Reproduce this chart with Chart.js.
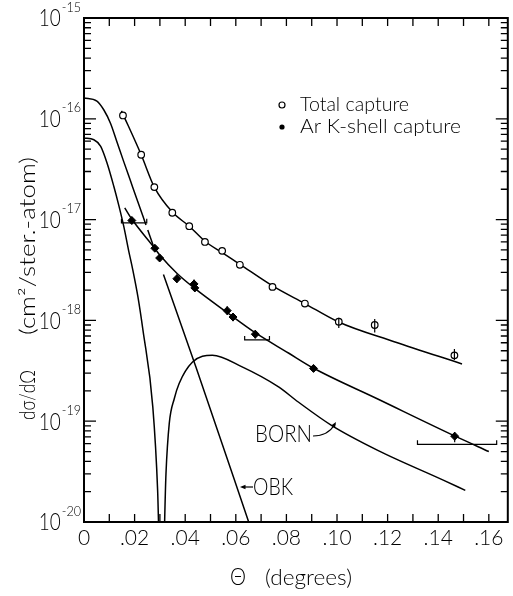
<!DOCTYPE html>
<html>
<head>
<meta charset="utf-8">
<script src="https://cdn.jsdelivr.net/npm/chart.js@4.4.1/dist/chart.umd.min.js"></script>
<style>
  body { margin: 0; background: #fff; }
</style>
</head>
<body>
<canvas id="sigmaChart" width="513" height="596"></canvas>
<script>
// theta in degrees, cross sections in cm^2/ster.-atom
const totalTheta = [0.0154, 0.0226, 0.0278, 0.0349, 0.0416, 0.0478, 0.0546, 0.0616, 0.0745, 0.0873, 0.1007, 0.1149, 0.1464];
const totalSigma = [1.08e-16, 4.4e-17, 2.1e-17, 1.17e-17, 8.6e-18, 6.0e-18, 4.9e-18, 3.56e-18, 2.15e-18, 1.47e-18, 9.7e-19, 9.0e-19, 4.5e-19];
// only the last three open points carry visible error bars
const totalErrTheta = [0.1007, 0.1149, 0.1464];
const totalErrLo = [8.4e-19, 7.6e-19, 4.05e-19];
const totalErrHi = [1.06e-18, 1.035e-18, 5.2e-19];

const arTheta = [0.0189, 0.0280, 0.0299, 0.0367, 0.0435, 0.0438, 0.0566, 0.0589, 0.0677, 0.0907, 0.1465];
const arSigma = [9.8e-18, 5.2e-18, 4.16e-18, 2.59e-18, 2.3e-18, 2.1e-18, 1.25e-18, 1.08e-18, 7.3e-19, 3.34e-19, 7.1e-20];
const arErrLo = [9.0e-18, 4.8e-18, 3.85e-18, 2.35e-18, 2.1e-18, 1.92e-18, 1.13e-18, 0.98e-18, 6.6e-19, 3.1e-19, 6.2e-20];
const arErrHi = [1.07e-17, 5.6e-18, 4.5e-18, 2.85e-18, 2.55e-18, 2.3e-18, 1.38e-18, 1.18e-18, 8.0e-19, 3.6e-19, 7.8e-20];
// angular resolution brackets
const resTheta0 = [0.0148, 0.0635, 0.1318];
const resTheta1 = [0.0248, 0.0733, 0.1631];
const resSigma = [9.3e-18, 6.4e-19, 5.9e-20];

// hand drawn curves
const totalFitTheta = [0.0148, 0.0226, 0.0278, 0.0350, 0.0416, 0.0478, 0.0546, 0.0616, 0.0745, 0.0873, 0.1004, 0.1226, 0.1494];
const totalFitSigma = [1.2e-16, 4.4e-17, 2.1e-17, 1.18e-17, 8.6e-18, 6.1e-18, 4.7e-18, 3.6e-18, 2.2e-18, 1.47e-18, 9.7e-19, 6.15e-19, 3.7e-19];
const arFitTheta = [0.0161, 0.0188, 0.0278, 0.0302, 0.0369, 0.0435, 0.0565, 0.0678, 0.0808, 0.0906, 0.1161, 0.1467, 0.1600];
const arFitSigma = [1.31e-17, 1.02e-17, 5.25e-18, 4.37e-18, 2.9e-18, 2.1e-18, 1.2e-18, 7.5e-19, 4.75e-19, 3.37e-19, 1.66e-19, 7.1e-20, 5.0e-20];

const obkTheta = [0, 0.0051, 0.0078, 0.0105, 0.0131, 0.0157, 0.0184, 0.0212, 0.0245, 0.0252, 0.0278, 0.0314, 0.0442, 0.0667];
const obkSigma = [1.61e-16, 1.5e-16, 1.23e-16, 9.0e-17, 5.82e-17, 3.76e-17, 2.41e-17, 1.52e-17, 8.85e-18, 7.89e-18, 5.15e-18, 2.85e-18, 3.47e-19, 7.6e-21];
// pieces of the OBK curve left blank where it crosses the data
const obkGaps = [[0.0245, 0.0252], [0.0278, 0.0314]];

const bornTheta = [0, 0.0039, 0.0066, 0.0091, 0.0118, 0.0137, 0.0157, 0.0176, 0.0193, 0.0213, 0.0233, 0.0272, 0.0291, 0.0306,
  0.0324, 0.0337, 0.0357, 0.0376, 0.0429, 0.0507, 0.0625, 0.0769, 0.0847, 0.0978, 0.1161, 0.1422, 0.1507];
const bornSigma = [6.44e-17, 6.2e-17, 5.32e-17, 3.64e-17, 2.13e-17, 1.4e-17, 8.6e-18, 4.99e-18, 3.16e-18, 1.72e-18, 8.0e-19, 1.38e-19, 2.06e-20, 1e-21,
  3.0e-20, 9.5e-20, 1.68e-19, 2.37e-19, 3.87e-19, 4.52e-19, 3.46e-19, 2.19e-19, 1.55e-19, 9.1e-20, 5.14e-20, 2.59e-20, 2.06e-20];

const xTickLabels = [0, 0.02, 0.04, 0.06, 0.08, 0.10, 0.12, 0.14, 0.16];
const yDecades = [-15, -16, -17, -18, -19, -20];

const FONT = 'Lato, "DejaVu Sans", sans-serif';
const WEIGHT = '300';

function pts(xs, ys) {
  return xs.map((v, i) => ({ x: v, y: ys[i] }));
}

// draw text squeezed/stretched to a given width
function fitText(ctx, str, x, y, size, width, align) {
  ctx.font = WEIGHT + ' ' + size + 'px ' + FONT;
  const w = ctx.measureText(str).width;
  ctx.save();
  ctx.translate(x, y);
  ctx.scale(width / w, 1);
  ctx.textAlign = align || 'left';
  ctx.textBaseline = 'middle';
  ctx.fillText(str, 0, 0);
  ctx.restore();
}

function arrowHead(ctx, x, y, ang) {
  ctx.beginPath();
  ctx.moveTo(x, y);
  ctx.lineTo(x - 6 * Math.cos(ang - 0.4), y - 6 * Math.sin(ang - 0.4));
  ctx.lineTo(x - 6 * Math.cos(ang + 0.4), y - 6 * Math.sin(ang + 0.4));
  ctx.closePath();
  ctx.fill();
}

const decorPlugin = {
  id: 'decor',
  afterDatasetsDraw(chart) {
    const { ctx, chartArea: a, scales: { x, y } } = chart;
    ctx.save();
    ctx.strokeStyle = '#000';
    ctx.fillStyle = '#000';

    // error bars
    ctx.lineWidth = 1.2;
    ctx.beginPath();
    totalErrTheta.forEach((t, i) => {
      const px = x.getPixelForValue(t);
      ctx.moveTo(px, y.getPixelForValue(totalErrLo[i]));
      ctx.lineTo(px, y.getPixelForValue(totalErrHi[i]));
    });
    arTheta.forEach((t, i) => {
      const px = x.getPixelForValue(t);
      ctx.moveTo(px, y.getPixelForValue(arErrLo[i]));
      ctx.lineTo(px, y.getPixelForValue(arErrHi[i]));
    });
    resSigma.forEach((s, i) => {
      const py = y.getPixelForValue(s);
      const x0 = x.getPixelForValue(resTheta0[i]);
      const x1 = x.getPixelForValue(resTheta1[i]);
      ctx.moveTo(x0, py - 4);
      ctx.lineTo(x0, py);
      ctx.lineTo(x1, py);
      ctx.lineTo(x1, py - 4);
    });
    ctx.stroke();

    // frame
    ctx.lineWidth = 2;
    ctx.strokeRect(a.left, a.top, a.right - a.left, a.bottom - a.top);

    // inward ticks
    ctx.lineWidth = 1.3;
    ctx.beginPath();
    for (let i = 0; i <= 16; i++) {
      const px = x.getPixelForValue(i / 100);
      ctx.moveTo(px, a.bottom);
      ctx.lineTo(px, a.bottom - 8);
      ctx.moveTo(px, a.top);
      ctx.lineTo(px, a.top + 8);
    }
    for (let e = -20; e <= -15; e++) {
      for (let m = 1; m <= 9; m++) {
        if (e === -15 && m > 1) break;
        const py = y.getPixelForValue(m * Math.pow(10, e));
        const len = m === 1 ? 12 : 7;
        ctx.moveTo(a.left, py);
        ctx.lineTo(a.left + len, py);
        ctx.moveTo(a.right, py);
        ctx.lineTo(a.right - len, py);
      }
    }
    ctx.stroke();

    // y tick labels: 10 with raised exponent
    yDecades.forEach(e => {
      const py = y.getPixelForValue(Math.pow(10, e));
      const sup = String(e);
      ctx.font = WEIGHT + ' 14px ' + FONT;
      const sw = ctx.measureText(sup).width * 0.9;
      fitText(ctx, sup, 81 - sw, py - 11, 14, sw, 'left');
      fitText(ctx, '10', 81 - sw - 1, py + 1, 23, 22, 'right');
    });

    // legend
    ctx.lineWidth = 1.2;
    ctx.beginPath();
    ctx.arc(282, 105, 3, 0, Math.PI * 2);
    ctx.stroke();
    ctx.beginPath();
    ctx.arc(282, 127, 2.6, 0, Math.PI * 2);
    ctx.fill();
    fitText(ctx, 'Total capture', 300, 105, 20, 109);
    fitText(ctx, 'Ar K-shell capture', 300, 127, 20, 161);

    // curve labels
    fitText(ctx, 'BORN', 255, 435, 23, 57);
    ctx.beginPath();
    ctx.moveTo(313, 436);
    ctx.quadraticCurveTo(328, 436, 335, 424);
    ctx.stroke();
    arrowHead(ctx, 336, 422, -1.0);
    fitText(ctx, 'OBK', 253, 488, 23, 40);
    ctx.beginPath();
    ctx.moveTo(253, 487);
    ctx.lineTo(243, 487);
    ctx.stroke();
    arrowHead(ctx, 240, 487, Math.PI);

    // axis titles
    fitText(ctx, '\u0398', 238, 578, 23, 16, 'center');
    fitText(ctx, '(degrees)', 265, 578, 21, 87);
    ctx.save();
    ctx.translate(28, 0);
    ctx.rotate(-Math.PI / 2);
    fitText(ctx, '(cm\u00b2/ster.-atom)', -246, 0, 21, 178, 'center');
    fitText(ctx, 'd\u03c3/d\u03a9', -395, 0, 22, 50, 'center');
    ctx.restore();

    ctx.restore();
  }
};

const curve = { showLine: true, pointRadius: 0, borderColor: '#000', borderWidth: 1.5, cubicInterpolationMode: 'monotone', fill: false };

new Chart(document.getElementById('sigmaChart'), {
  type: 'scatter',
  data: {
    datasets: [
      { label: 'Total capture', data: pts(totalTheta, totalSigma), pointStyle: 'circle', pointRadius: 3.3,
        pointBackgroundColor: '#fff', pointBorderColor: '#000', pointBorderWidth: 1.2 },
      { label: 'Ar K-shell capture', data: pts(arTheta, arSigma), pointStyle: 'rectRot', pointRadius: 4,
        pointBackgroundColor: '#000', pointBorderColor: '#000', pointBorderWidth: 1 },
      Object.assign({ label: 'Total fit', data: pts(totalFitTheta, totalFitSigma) }, curve),
      Object.assign({ label: 'Ar K fit', data: pts(arFitTheta, arFitSigma) }, curve),
      Object.assign({ label: 'OBK', data: pts(obkTheta, obkSigma),
        segment: {
          borderColor: c => obkGaps.some(g => c.p0.parsed.x >= g[0] - 1e-6 && c.p1.parsed.x <= g[1] + 1e-6) ? 'rgba(0,0,0,0)' : undefined
        } }, curve),
      Object.assign({ label: 'BORN', data: pts(bornTheta, bornSigma) }, curve)
    ]
  },
  options: {
    responsive: false,
    animation: false,
    devicePixelRatio: 1,
    layout: { padding: { top: 18, right: 2, left: 0, bottom: 0 } },
    plugins: { legend: { display: false }, tooltip: { enabled: false } },
    scales: {
      x: {
        type: 'linear', min: 0, max: 0.1675,
        grid: { display: false, drawTicks: false },
        border: { display: false },
        ticks: {
          stepSize: 0.02, includeBounds: false, padding: 4, color: '#000', maxRotation: 0,
          font: { family: FONT, size: 21, weight: WEIGHT },
          callback: v => xTickLabels.some(t => Math.abs(t - v) < 1e-6) ? (v === 0 ? '0' : v.toFixed(2).slice(1)) : ''
        },
        afterFit: s => { s.height = 74; }
      },
      y: {
        type: 'logarithmic', min: 1e-20, max: 1e-15,
        grid: { display: false, drawTicks: false },
        border: { display: false },
        ticks: { display: false },
        afterFit: s => { s.width = 84; }
      }
    }
  },
  plugins: [decorPlugin]
});
</script>
</body>
</html>
